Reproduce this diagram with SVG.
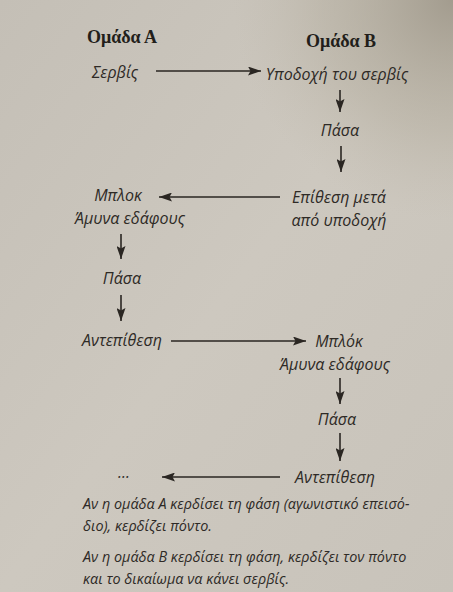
<svg xmlns="http://www.w3.org/2000/svg" width="453" height="592" viewBox="0 0 453 592">
<defs>
<linearGradient id="bg" x1="0" y1="0" x2="1" y2="1">
<stop offset="0" stop-color="#c4bfb6"/>
<stop offset="0.5" stop-color="#cdc8bf"/>
<stop offset="1" stop-color="#c8c3ba"/>
</linearGradient>
<radialGradient id="tr" cx="453" cy="0" r="220" gradientUnits="userSpaceOnUse">
<stop offset="0" stop-color="#9e9789" stop-opacity="0.9"/>
<stop offset="0.6" stop-color="#aea797" stop-opacity="0.4"/>
<stop offset="1" stop-color="#bdb6a8" stop-opacity="0"/>
</radialGradient>
<marker id="ah" viewBox="0 0 13 9" refX="13" refY="4.5" markerWidth="13" markerHeight="9" markerUnits="userSpaceOnUse" orient="auto">
<path d="M0,0 L13,4.5 L0,9 L2.5,4.5 Z" fill="#2a2622"/>
</marker>
<style>
.t{font-family:"Open Sans","Noto Sans","DejaVu Sans",sans-serif;font-style:italic;font-size:16px;fill:#2e2a26;text-anchor:middle}
.h{font-family:"Liberation Serif","DejaVu Serif",serif;font-weight:bold;font-size:18px;fill:#221e1a;text-anchor:middle}
.p{font-family:"Open Sans","Noto Sans","DejaVu Sans",sans-serif;font-style:italic;font-size:14.4px;fill:#2e2a26}
.c{stroke:#2a2622;stroke-width:1.6;fill:none;marker-end:url(#ah)}
</style>
</defs>
<rect width="453" height="592" fill="url(#bg)"/>
<rect width="453" height="592" fill="url(#tr)"/>
<g id="headA"><text class="h" x="122" y="43">Ομάδα Α</text></g>
<g id="headB"><text class="h" x="341" y="47">Ομάδα Β</text></g>
<g id="n1"><text class="t" x="115" y="78">Σερβίς</text></g>
<g id="n2"><text class="t" x="337" y="80">Υποδοχή του σερβίς</text></g>
<g id="n3"><text class="t" x="340" y="136">Πάσα</text></g>
<g id="n4"><text class="t" x="339" y="203">Επίθεση μετά</text><text class="t" x="339" y="226">από υποδοχή</text></g>
<g id="n5"><text class="t" x="118" y="201">Μπλοκ</text><text class="t" x="130" y="224">Άμυνα εδάφους</text></g>
<g id="n6"><text class="t" x="122" y="284">Πάσα</text></g>
<g id="n7"><text class="t" x="122" y="346">Αντεπίθεση</text></g>
<g id="n8"><text class="t" x="339" y="347">Μπλόκ</text><text class="t" x="335" y="370">Άμυνα εδάφους</text></g>
<g id="n9"><text class="t" x="337" y="425">Πάσα</text></g>
<g id="n10"><text class="t" x="335" y="483">Αντεπίθεση</text></g>
<g id="n11"><text class="t" x="124" y="478">...</text></g>
<g id="connectors">
<line class="c" x1="156" y1="71" x2="261" y2="71"/>
<line class="c" x1="340" y1="90" x2="340" y2="112"/>
<line class="c" x1="341" y1="146" x2="341" y2="172"/>
<line class="c" x1="280" y1="197" x2="159" y2="197"/>
<line class="c" x1="121" y1="234" x2="121" y2="259"/>
<line class="c" x1="121" y1="295" x2="121" y2="321"/>
<line class="c" x1="171" y1="341" x2="306" y2="341"/>
<line class="c" x1="340" y1="378" x2="340" y2="404"/>
<line class="c" x1="340" y1="433" x2="340" y2="461"/>
<line class="c" x1="280" y1="477" x2="162" y2="477"/>
</g>
<g id="notes">
<text class="p" x="83" y="509">Αν η ομάδα Α κερδίσει τη φάση (αγωνιστικό επεισό-</text>
<text class="p" x="83" y="531">διο), κερδίζει πόντο.</text>
<text class="p" x="83" y="562">Αν η ομάδα Β κερδίσει τη φάση, κερδίζει τον πόντο</text>
<text class="p" x="83" y="584">και το δικαίωμα να κάνει σερβίς.</text>
</g>
</svg>
